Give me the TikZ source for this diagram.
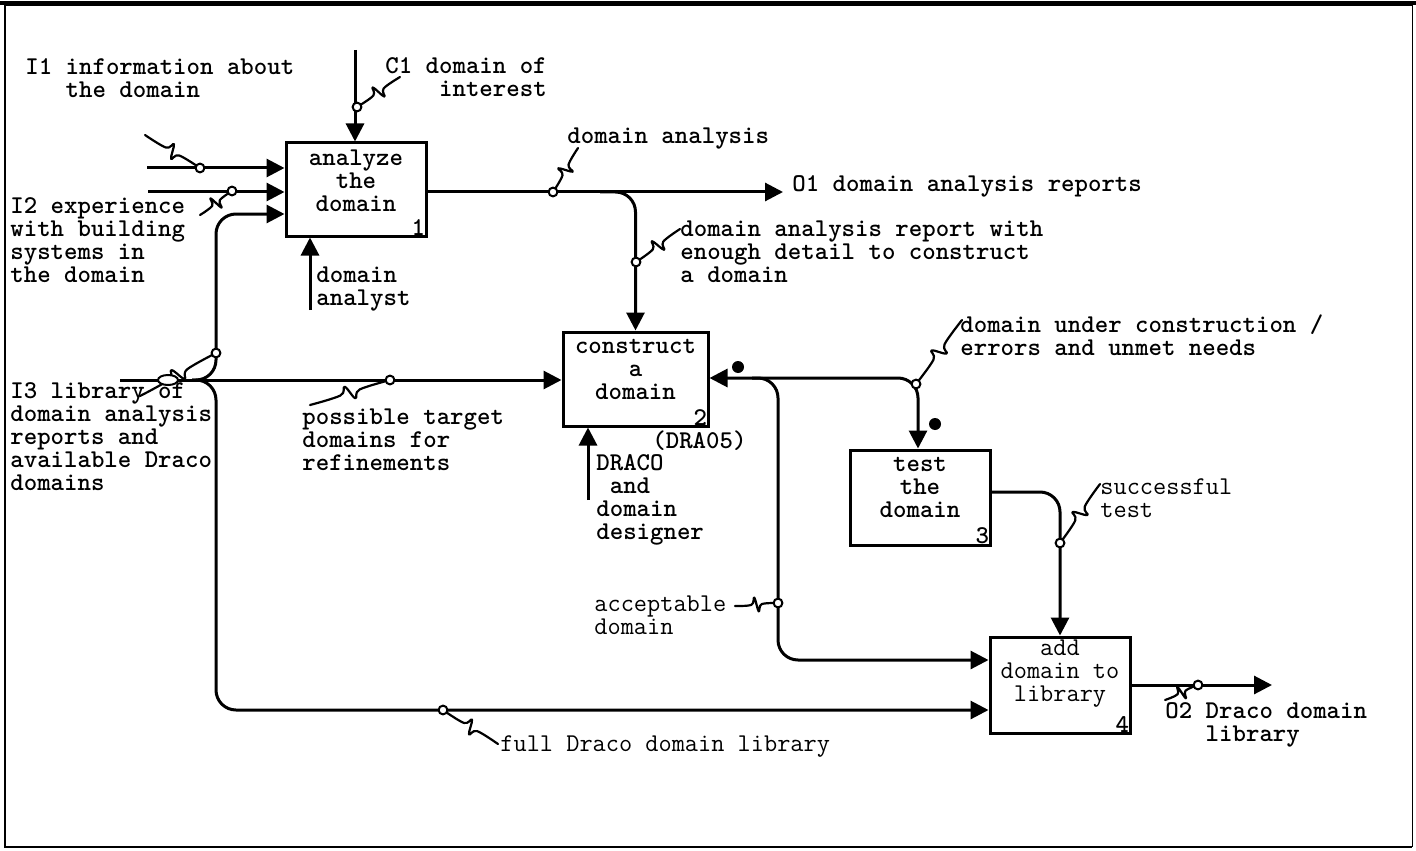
\documentclass[tikz,border=0pt]{standalone}
\usepackage{fontspec}
\usetikzlibrary{arrows.meta,calc}

\tikzset{
  txt/.style={font=\ttfamily\bfseries\fontsize{12.8}{11.5}\selectfont, inner sep=0pt},
  thin/.style={font=\ttfamily\fontsize{12.8}{11.5}\selectfont},
  lbl/.style={txt, align=left, anchor=north west},
  boxtext/.style={txt, align=center, anchor=north},
  boxnum/.style={txt, anchor=south east},
  procbox/.style={draw, line width=1.5pt, inner sep=0pt},
  tip/.style={-{Triangle[length=9pt,width=9pt]}},
  flow/.style={line width=1.5pt, rounded corners=10pt, tip},
  plain/.style={line width=1.5pt, rounded corners=10pt},
  squig/.style={line width=1.1pt, line join=round, line cap=round},
}

% IDEF0 label connector: a line from a label to an arrow with an S kink midway and a small knot at the arrow
\newcommand\tildeline[2]{%
  \draw[squig] plot[smooth, tension=0.6] coordinates {(#1) ($(#1)!0.38!(#2)$) ($(#1)!0.46!(#2)!3.5pt!90:(#2)$) ($(#1)!0.54!(#2)!3.5pt!-90:(#2)$) ($(#1)!0.62!(#2)$) (#2)};
  \draw[line width=1pt, fill=white] (#2) circle (2.2pt);}

\begin{document}
\begin{tikzpicture}[x=0.5pt,y=-0.5pt]
\useasboundingbox (0,0) rectangle (1416,850);

% frame
\draw[line width=1pt] (1412,5) -- (5,5) -- (5,847) -- (1412,847);
\draw[line width=2pt] (0,3) -- (1416,3);
\draw[line width=0.5pt] (1412,5) -- (1412,847);

% activity boxes
\node[procbox, minimum width=70pt, minimum height=46.5pt] (A1) at (356,189.5) {};
\node[procbox, minimum width=72.5pt, minimum height=47pt] (A2) at (635.5,379) {};
\node[procbox, minimum width=70pt, minimum height=47.5pt] (A3) at (920,497.5) {};
\node[procbox, minimum width=70pt, minimum height=48pt] (A4) at (1060,685) {};

\node[boxtext] (A1t) at ([yshift=-4pt]A1.north) {analyze\\the\\domain};
\node[boxtext] (A2t) at ([yshift=-4pt]A2.north) {construct\\a\\domain};
\node[boxtext] (A3t) at ([yshift=-4pt]A3.north) {test\\the\\domain};
\node[boxtext, thin] (A4t) at ([yshift=-2pt]A4.north) {add\\domain to\\library};
\node[boxnum] (A1n) at ([xshift=-1pt,yshift=1pt]A1.south east) {1};
\node[boxnum] (A2n) at ([xshift=-1pt,yshift=1pt]A2.south east) {2};
\node[boxnum] (A3n) at ([xshift=-1pt,yshift=1pt]A3.south east) {3};
\node[boxnum] (A4n) at ([xshift=-1pt,yshift=1pt]A4.south east) {4};

% arrow end points and bends
\coordinate (i1) at (147,168);
\coordinate (i2) at (148,192);
\coordinate (i3) at (120,380);
\coordinate (split) at (192,380);
\coordinate (lib) at (216,214);
\coordinate (tm) at (216,710);
\coordinate (c1) at (355,50);
\coordinate (m1) at (310,310);
\coordinate (m2) at (588,500);
\coordinate (o1) at (783,192);
\coordinate (b1) at (600,192);
\coordinate (fb) at (918,378);
\coordinate (acs) at (752,378);
\coordinate (ac) at (778,660);
\coordinate (t3) at (1060,492);
\coordinate (o2) at (1272,685);

% inputs, controls, mechanisms, outputs
\draw[flow] (i1) -- (i1 -| A1.west);
\draw[flow] (i2) -- (i2 -| A1.west);
\draw[flow] (i3) -- (i3 -| A2.west);
\draw[flow] (split) -- (split -| lib) -- (lib) -- (lib -| A1.west);
\draw[flow] (split) -- (split -| tm) -- (tm) -- (tm -| A4.west);
\draw[flow] (c1) -- (c1 |- A1.north);
\draw[flow] (m1) -- (m1 |- A1.south);
\draw[flow] (m2) -- (m2 |- A2.south);
\draw[flow] (A1.east |- o1) -- (o1);
\draw[flow] (b1) -- (b1 -| A2.north) -- (A2.north);
\draw[plain, {Triangle[length=9pt,width=9pt]}-{Triangle[length=9pt,width=9pt]}]
  (A2.east |- fb) -- (fb) -- (fb |- A3.north);
\draw[flow] (acs) -- (acs -| ac) -- (ac) -- (ac -| A4.west);
\draw[flow] (A3.east |- t3) -- (t3) -- (t3 |- A4.north);
\draw[flow] (A4.east |- o2) -- (o2);

% marks beside the feedback arrow
\fill (738,367) circle (3pt);
\fill (935,424) circle (3pt);

% labels
\node[lbl] (l1) at (25,58) {I1 information about\\\phantom{I1 }the domain};
\node[lbl] (l2) at (10,197) {I2 experience\\with building\\systems in\\the domain};
\node[lbl] (l3) at (10,382) {I3 library of\\domain analysis\\reports and\\available Draco\\domains};
\node[lbl] (lc1) at (385,57) {C1 domain of\\\phantom{C1 d}interest};
\node[lbl] (lm1) at (316,266) {domain\\analyst};
\node[lbl] (lda) at (567,127) {domain analysis};
\node[lbl] (lo1) at (792,175) {O1 domain analysis reports};
\node[lbl] (ldr) at (680,220) {domain analysis report with\\enough detail to construct\\a domain};
\node[lbl] (lpt) at (302,408) {possible target\\domains for\\refinements};
\node[lbl] (ldra) at (652,430) {(DRA05)};
\node[lbl] (lm2) at (596,454) {DRACO\\\phantom{D}and\\domain\\designer};
\node[lbl] (luc) at (960,314) {domain under construction /\\errors and unmet needs};
\node[lbl, thin] (lst) at (1100,478) {successful\\test};
\node[lbl, thin] (lac) at (594,595) {acceptable\\domain};
\node[lbl, thin] (lfd) at (500,735) {full Draco domain library};
\node[lbl] (lo2) at (1165,702) {O2 Draco domain\\\phantom{O2 }library};

% label connectors
\coordinate (s1a) at (145,135); \coordinate (s1b) at (200,168);
\coordinate (s2a) at (200,215); \coordinate (s2b) at (232,191);
\coordinate (s3a) at (400,77);  \coordinate (s3b) at (357,107);
\coordinate (s4a) at (578,148); \coordinate (s4b) at (553,192);
\coordinate (s5a) at (680,229); \coordinate (s5b) at (636,262);
\coordinate (s6a) at (140,396); \coordinate (s6b) at (216,353);
\coordinate (s7a) at (310,405); \coordinate (s7b) at (390,380);
\coordinate (s8a) at (962,320); \coordinate (s8b) at (916,384);
\coordinate (s9a) at (1100,484); \coordinate (s9b) at (1060,543);
\coordinate (s10a) at (735,606); \coordinate (s10b) at (778,603);
\coordinate (s11a) at (498,744); \coordinate (s11b) at (443,710);
\coordinate (s12a) at (1165,700); \coordinate (s12b) at (1198,685);
\tildeline{s1a}{s1b}
\tildeline{s2a}{s2b}
\tildeline{s3a}{s3b}
\tildeline{s4a}{s4b}
\tildeline{s5a}{s5b}
\tildeline{s6a}{s6b}
\tildeline{s7a}{s7b}
\tildeline{s8a}{s8b}
\tildeline{s9a}{s9b}
\tildeline{s10a}{s10b}
\tildeline{s11a}{s11b}
\tildeline{s12a}{s12b}
\draw[line width=1pt, fill=white] (168,380) ellipse (5pt and 2.5pt);
\end{tikzpicture}
\end{document}
